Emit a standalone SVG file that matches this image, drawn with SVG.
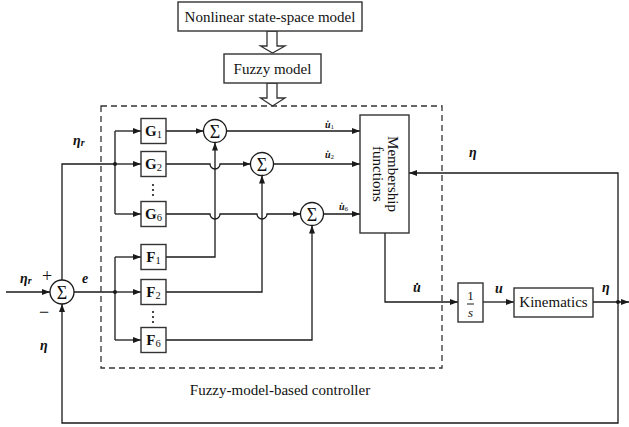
<svg xmlns="http://www.w3.org/2000/svg" width="629" height="427" viewBox="0 0 629 427">
<style>
.ln{fill:none;stroke:#1a1a1a;stroke-width:1.3}
.bx{fill:#fff;stroke:#333;stroke-width:1.4}
.t{font-family:"Liberation Serif","Times New Roman",serif;fill:#111}
.bl{font-weight:bold}
.bi{font-weight:bold;font-style:italic}
.sum{fill:#fff;stroke:#1a1a1a;stroke-width:1.3}
.dot{fill:#1a1a1a}
</style>
<defs>
<marker id="ah" viewBox="0 0 8 6" refX="8" refY="3" markerWidth="8" markerHeight="6" markerUnits="userSpaceOnUse" orient="auto">
<path d="M0,0 L8,3 L0,6 z" fill="#1a1a1a"/>
</marker>
</defs>
<rect width="629" height="427" fill="#fff"/>

<g id="connectors">
<polygon points="267,31 277,31 277,46 285,46 272.5,53 260.5,46 267,46" fill="#fff" stroke="#333" stroke-width="1.3"/>
<polygon points="267,83 277,83 277,98 285,98 272.5,106 260.5,98 267,98" fill="#fff" stroke="#333" stroke-width="1.3"/>
<path class="ln" d="M6,292 H50" marker-end="url(#ah)"/>
<path class="ln" d="M62,280 V164 H115"/>
<path class="ln" d="M115,131 V214"/>
<path class="ln" d="M115,131 H141" marker-end="url(#ah)"/>
<path class="ln" d="M115,164 H141" marker-end="url(#ah)"/>
<path class="ln" d="M115,214 H141" marker-end="url(#ah)"/>
<path class="ln" d="M74,292 H115"/>
<path class="ln" d="M115,257 V340"/>
<path class="ln" d="M115,257 H141" marker-end="url(#ah)"/>
<path class="ln" d="M115,292 H141" marker-end="url(#ah)"/>
<path class="ln" d="M115,340 H141" marker-end="url(#ah)"/>
<path class="ln" d="M166,131 H203.5" marker-end="url(#ah)"/>
<path class="ln" d="M166,164 H210 A5,5 0 0 0 220,164 H250.5" marker-end="url(#ah)"/>
<path class="ln" d="M166,214 H210 A5,5 0 0 0 220,214 H257 A5,5 0 0 0 267,214 H300.5" marker-end="url(#ah)"/>
<path class="ln" d="M166,257 H215 V142.5" marker-end="url(#ah)"/>
<path class="ln" d="M166,292 H262 V175.5" marker-end="url(#ah)"/>
<path class="ln" d="M166,340 H312 V225.5" marker-end="url(#ah)"/>
<path class="ln" d="M226.5,131 H360" marker-end="url(#ah)"/>
<path class="ln" d="M273.5,164 H360" marker-end="url(#ah)"/>
<path class="ln" d="M323.5,214 H360" marker-end="url(#ah)"/>
<path class="ln" d="M385,233 V302 H458" marker-end="url(#ah)"/>
<path class="ln" d="M483,302 H514" marker-end="url(#ah)"/>
<path class="ln" d="M593,302 H629" marker-end="url(#ah)"/>
<path class="ln" d="M618,302 V173 H409" marker-end="url(#ah)"/>
<path class="ln" d="M618,302 V423 H62 V304" marker-end="url(#ah)"/>
<circle class="dot" cx="115" cy="164" r="2"/>
<circle class="dot" cx="115" cy="292" r="2"/>
<circle class="dot" cx="618" cy="302" r="2"/>
</g>

<g id="dashed-box">
<rect x="101" y="106" width="341" height="262" fill="none" stroke="#333" stroke-width="1.3" stroke-dasharray="6,4"/>
<text class="t" x="280" y="395" font-size="15" text-anchor="middle">Fuzzy-model-based controller</text>
</g>

<g id="nonlinear">
<rect class="bx" x="178" y="2" width="184" height="29"/>
<text class="t" x="270" y="22" font-size="15" text-anchor="middle">Nonlinear state-space model</text>
</g>
<g id="fuzzy">
<rect class="bx" x="224" y="54" width="97" height="29"/>
<text class="t" x="272.5" y="74" font-size="15" text-anchor="middle">Fuzzy model</text>
</g>

<g id="sum0">
<circle class="sum" cx="62" cy="292" r="12"/>
<text class="t" x="62" y="298.5" font-size="18" text-anchor="middle">Σ</text>
</g>
<g id="sum1">
<circle class="sum" cx="215" cy="131" r="11.5"/>
<text class="t" x="215" y="137.5" font-size="18" text-anchor="middle">Σ</text>
</g>
<g id="sum2">
<circle class="sum" cx="262" cy="164" r="11.5"/>
<text class="t" x="262" y="170.5" font-size="18" text-anchor="middle">Σ</text>
</g>
<g id="sum6">
<circle class="sum" cx="312" cy="214" r="11.5"/>
<text class="t" x="312" y="220.5" font-size="18" text-anchor="middle">Σ</text>
</g>

<g id="G1">
<rect class="bx" x="141" y="118.5" width="25" height="25"/>
<text class="t bl" x="153.5" y="136" font-size="15" text-anchor="middle">G<tspan font-size="10.5" font-weight="normal" dy="2">1</tspan></text>
</g>
<g id="G2">
<rect class="bx" x="141" y="151.5" width="25" height="25"/>
<text class="t bl" x="153.5" y="169" font-size="15" text-anchor="middle">G<tspan font-size="10.5" font-weight="normal" dy="2">2</tspan></text>
</g>
<g id="G6">
<rect class="bx" x="141" y="201.5" width="25" height="25"/>
<text class="t bl" x="153.5" y="219" font-size="15" text-anchor="middle">G<tspan font-size="10.5" font-weight="normal" dy="2">6</tspan></text>
</g>
<g id="F1">
<rect class="bx" x="141" y="244.5" width="25" height="25"/>
<text class="t bl" x="153.5" y="262" font-size="15" text-anchor="middle">F<tspan font-size="10.5" font-weight="normal" dy="2">1</tspan></text>
</g>
<g id="F2">
<rect class="bx" x="141" y="279.5" width="25" height="25"/>
<text class="t bl" x="153.5" y="297" font-size="15" text-anchor="middle">F<tspan font-size="10.5" font-weight="normal" dy="2">2</tspan></text>
</g>
<g id="F6">
<rect class="bx" x="141" y="327.5" width="25" height="25"/>
<text class="t bl" x="153.5" y="345" font-size="15" text-anchor="middle">F<tspan font-size="10.5" font-weight="normal" dy="2">6</tspan></text>
</g>
<g id="vdots">
<circle class="dot" cx="153" cy="185" r="1.1"/>
<circle class="dot" cx="153" cy="190" r="1.1"/>
<circle class="dot" cx="153" cy="195" r="1.1"/>
<circle class="dot" cx="153" cy="312" r="1.1"/>
<circle class="dot" cx="153" cy="317" r="1.1"/>
<circle class="dot" cx="153" cy="322" r="1.1"/>
</g>

<g id="membership">
<rect class="bx" x="360" y="115" width="49" height="118"/>
<text class="t" font-size="15" text-anchor="middle" transform="translate(388,174) rotate(90)">Membership</text>
<text class="t" font-size="15" text-anchor="middle" transform="translate(373,174) rotate(90)">functions</text>
</g>

<g id="integrator">
<rect class="bx" x="458" y="283" width="25" height="39"/>
<text class="t" x="470.5" y="300" font-size="13" text-anchor="middle">1</text>
<line x1="467" y1="304" x2="474" y2="304" stroke="#1a1a1a" stroke-width="1"/>
<text class="t" x="470.5" y="317" font-size="13" font-style="italic" text-anchor="middle">s</text>
</g>

<g id="kinematics">
<rect class="bx" x="514" y="288" width="79" height="29"/>
<text class="t" x="553.5" y="307" font-size="15" text-anchor="middle">Kinematics</text>
</g>

<g id="labels">
<text class="t bi" x="20" y="283" font-size="14">η<tspan font-size="10" dy="1">r</tspan></text>
<text class="t" x="47" y="282" font-size="18" text-anchor="middle">+</text>
<text class="t" x="44" y="318" font-size="18" text-anchor="middle">−</text>
<text class="t bi" x="82" y="283" font-size="14">e</text>
<text class="t bi" x="40" y="350" font-size="14">η</text>
<text class="t bi" x="73" y="145" font-size="14">η<tspan font-size="10" dy="1">r</tspan></text>
<text class="t bi" x="469" y="157" font-size="14">η</text>
<text class="t bi" x="602" y="292" font-size="14">η</text>
<text class="t bi" x="495" y="293" font-size="14">u</text>
<text class="t bi" x="413" y="292" font-size="14">u̇</text>
<text class="t bi" x="325" y="128" font-size="10">u̇<tspan font-size="7" font-weight="normal" font-style="normal" dy="1">1</tspan></text>
<text class="t bi" x="325" y="158" font-size="10">u̇<tspan font-size="7" font-weight="normal" font-style="normal" dy="1">2</tspan></text>
<text class="t bi" x="339" y="210" font-size="10">u̇<tspan font-size="7" font-weight="normal" font-style="normal" dy="1">6</tspan></text>
</g>
</svg>
